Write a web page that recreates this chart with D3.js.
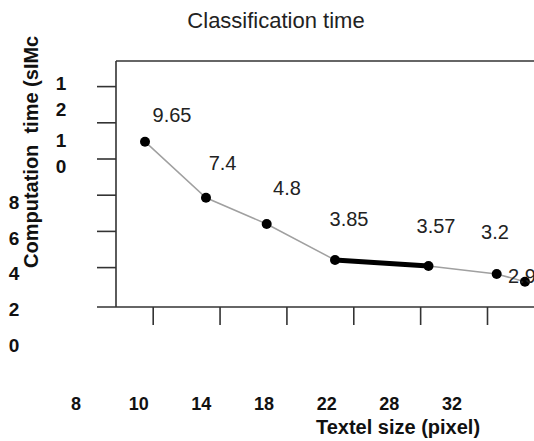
<!DOCTYPE html>
<html>
<head>
<meta charset="utf-8">
<script src="https://cdn.jsdelivr.net/npm/d3@7"></script>
<style>
  body { margin: 0; background: #fff; }
  svg { display: block; font-family: Arial, "Liberation Sans", sans-serif; }
</style>
</head>
<body>
<div id="chart"></div>
<script>
const xPlot = [0.885, 1.797, 2.705, 3.727, 5.125, 6.145, 6.568];
const yPlot = [8.93, 5.83, 4.38, 2.39, 2.06, 1.62, 1.19];
const timeLabels = ['9.65', '7.4', '4.8', '3.85', '3.57', '3.2', '2.9'];
const labelX = [1.289, 2.045, 3.009, 3.936, 5.237, 6.120, 6.523];
const labelY = [10.0, 7.36, 5.98, 4.27, 3.90, 3.54, 1.12];
const thickSegment = [3, 4]; // 3.85 -> 3.57 drawn bold

const xTicks = [1, 2, 3, 4, 5, 6];
const yTicks = [2, 4, 6, 8, 10, 12];
const xTickLabels = ['8', '10', '14', '18', '22', '28', '32'];
const yTickLabelsSingle = ['8', '6', '4', '2', '0'];
const yTickLabelsDouble = ['12', '10'];

const W = 534, H = 441;
const boxLeft = 116, boxTop = 61, boxBottom = 307;

const svg = d3.select('#chart').append('svg').attr('width', W).attr('height', H);

const x = d3.scaleLinear().domain([0, 7]).range([85.84, 85.84 + 66.86 * 7]);
const y = d3.scaleLinear().domain([0, 12]).range([303.3, 86.1]);

// title
svg.append('text').attr('x', 276).attr('y', 28).attr('text-anchor', 'middle')
  .attr('font-size', 22).attr('fill', '#222').text('Classification time');

// box (top + left), bottom line extends left past the spine
const frame = svg.append('g').attr('stroke', '#333').attr('stroke-width', 1.6).attr('fill', 'none');
frame.append('line').attr('x1', boxLeft).attr('x2', W + 5).attr('y1', boxTop).attr('y2', boxTop);
frame.append('line').attr('x1', boxLeft).attr('x2', boxLeft).attr('y1', boxTop).attr('y2', boxBottom);
frame.append('line').attr('x1', 97).attr('x2', W + 5).attr('y1', boxBottom).attr('y2', boxBottom);

// ticks
const yAxis = svg.append('g').attr('transform', `translate(${boxLeft},0)`)
  .call(d3.axisLeft(y).tickValues(yTicks).tickSize(19).tickFormat(''));
yAxis.select('.domain').remove();
yAxis.selectAll('.tick line').attr('stroke', '#333').attr('stroke-width', 1.6);

const xAxis = svg.append('g').attr('transform', `translate(0,${boxBottom})`)
  .call(d3.axisBottom(x).tickValues(xTicks).tickSize(18).tickFormat(''));
xAxis.select('.domain').remove();
xAxis.selectAll('.tick line').attr('stroke', '#333').attr('stroke-width', 1.6);

// bottom tick labels (offset from the ticks as in the source)
const xLab = d3.scalePoint().domain(xTickLabels).range([76, 452]);
svg.append('g').selectAll('text').data(xTickLabels).join('text')
  .attr('x', d => xLab(d)).attr('y', 410).attr('text-anchor', 'middle')
  .attr('font-size', 18).attr('font-weight', 'bold').attr('fill', '#111').text(d => d);

// left tick labels
const yLab = d3.scaleLinear().domain([0, 8]).range([345, 202]);
svg.append('g').selectAll('text').data(yTickLabelsSingle).join('text')
  .attr('x', 14).attr('y', d => yLab(+d)).attr('dy', '0.36em').attr('text-anchor', 'middle')
  .attr('font-size', 19).attr('font-weight', 'bold').attr('fill', '#111').text(d => d);

const yLab2 = d3.scalePoint().domain(yTickLabelsDouble).range([83, 140]);
yTickLabelsDouble.forEach(lbl => {
  lbl.split('').forEach((ch, i) => {
    svg.append('text').attr('x', 61).attr('y', yLab2(lbl) + i * 26).attr('dy', '0.36em')
      .attr('text-anchor', 'middle').attr('font-size', 19).attr('font-weight', 'bold')
      .attr('fill', '#111').text(ch);
  });
});

// y axis title, clipped at the top
svg.append('clipPath').attr('id', 'yclip').append('rect')
  .attr('x', 0).attr('y', 30).attr('width', 60).attr('height', 300);
svg.append('g').attr('clip-path', 'url(#yclip)')
  .append('text')
  .attr('transform', 'translate(38,268) rotate(-90)')
  .attr('font-size', 20).attr('font-weight', 'bold').attr('fill', '#111')
  .style('white-space', 'pre')
  .text('Computation  time (sIMc');

// x axis title
svg.append('text').attr('x', 398).attr('y', 434).attr('text-anchor', 'middle')
  .attr('font-size', 20).attr('font-weight', 'bold').attr('fill', '#111')
  .text('Textel size (pixel)');

// series
const pts = xPlot.map((v, i) => ({ x: v, y: yPlot[i], label: timeLabels[i], lx: labelX[i], ly: labelY[i] }));
const line = d3.line().x(d => x(d.x)).y(d => y(d.y));

const plot = svg.append('g');
plot.append('path').datum(pts).attr('d', line)
  .attr('fill', 'none').attr('stroke', '#a0a0a0').attr('stroke-width', 1.5);
plot.append('path').datum(thickSegment.map(i => pts[i])).attr('d', line)
  .attr('fill', 'none').attr('stroke', '#000').attr('stroke-width', 5).attr('stroke-linecap', 'round');

plot.selectAll('circle').data(pts).join('circle')
  .attr('cx', d => x(d.x)).attr('cy', d => y(d.y)).attr('r', 5).attr('fill', '#000');

plot.selectAll('text.lbl').data(pts).join('text').attr('class', 'lbl')
  .attr('x', d => x(d.lx)).attr('y', d => y(d.ly)).attr('text-anchor', 'middle')
  .attr('font-size', 20).attr('fill', '#222').text(d => d.label);
</script>
</body>
</html>
